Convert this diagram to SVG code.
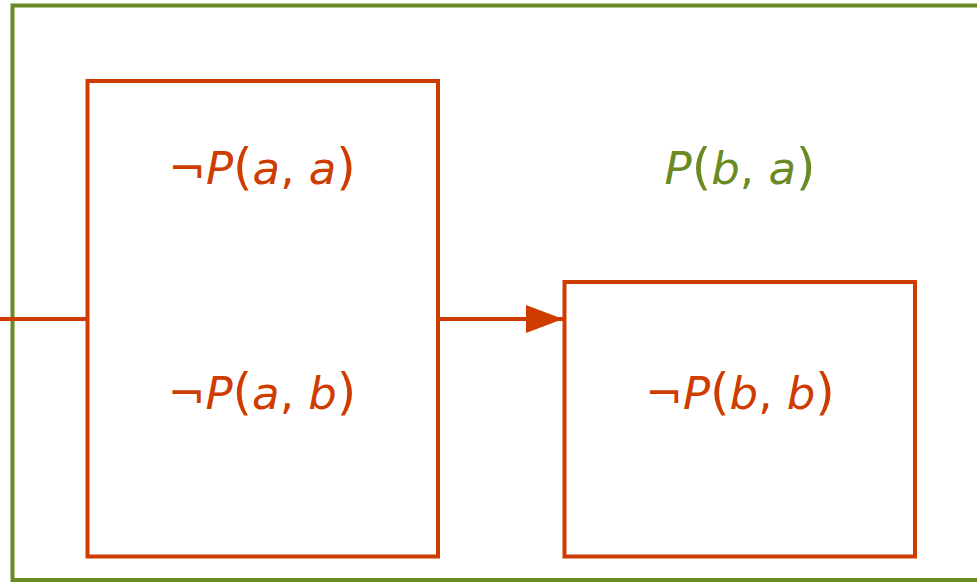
<svg xmlns="http://www.w3.org/2000/svg" width="977" height="582" viewBox="0 0 977 582">
  <defs>
    <style>
      .frame { fill: none; stroke: #6A8A24; stroke-width: 4; }
      .box { fill: none; stroke: #CF3C00; stroke-width: 4; }
      .edge { fill: none; stroke: #CF3C00; stroke-width: 4; }
      .lbl { font-family: "DejaVu Sans", "Liberation Sans", sans-serif; font-size: 45px; text-anchor: middle; }
      .red { fill: #CF3C00; }
      .green { fill: #6A8A24; }
      .it { font-style: italic; }
      .par { font-size: 50px; }
    </style>
    <marker id="arrow" markerWidth="37" markerHeight="28" refX="37" refY="14" orient="auto" markerUnits="userSpaceOnUse">
      <path d="M0,0 L37,14 L0,28 Z" fill="#CF3C00"/>
    </marker>
  </defs>

  <!-- outer world frame -->
  <g id="world">
    <rect class="frame" x="12.5" y="5.5" width="980" height="574.5"/>
    <text class="lbl green" x="740" y="184"><tspan class="it">P</tspan><tspan class="par">(</tspan><tspan class="it">b</tspan>, <tspan class="it">a</tspan><tspan class="par">)</tspan></text>
  </g>

  <!-- connectors -->
  <g id="connectors">
    <line class="edge" x1="0" y1="319" x2="87.5" y2="319"/>
    <line class="edge" x1="438" y1="319" x2="563" y2="319" marker-end="url(#arrow)"/>
  </g>

  <!-- left state -->
  <g id="state-a">
    <rect class="box" x="87.5" y="81" width="350.5" height="475.5"/>
    <text class="lbl red" x="262" y="184">¬<tspan class="it">P</tspan><tspan class="par">(</tspan><tspan class="it">a</tspan>, <tspan class="it">a</tspan><tspan class="par">)</tspan></text>
    <text class="lbl red" x="262" y="409">¬<tspan class="it">P</tspan><tspan class="par">(</tspan><tspan class="it">a</tspan>, <tspan class="it">b</tspan><tspan class="par">)</tspan></text>
  </g>

  <!-- right state -->
  <g id="state-b">
    <rect class="box" x="564.5" y="282" width="350.5" height="274.5"/>
    <text class="lbl red" x="740" y="409">¬<tspan class="it">P</tspan><tspan class="par">(</tspan><tspan class="it">b</tspan>, <tspan class="it">b</tspan><tspan class="par">)</tspan></text>
  </g>
</svg>
